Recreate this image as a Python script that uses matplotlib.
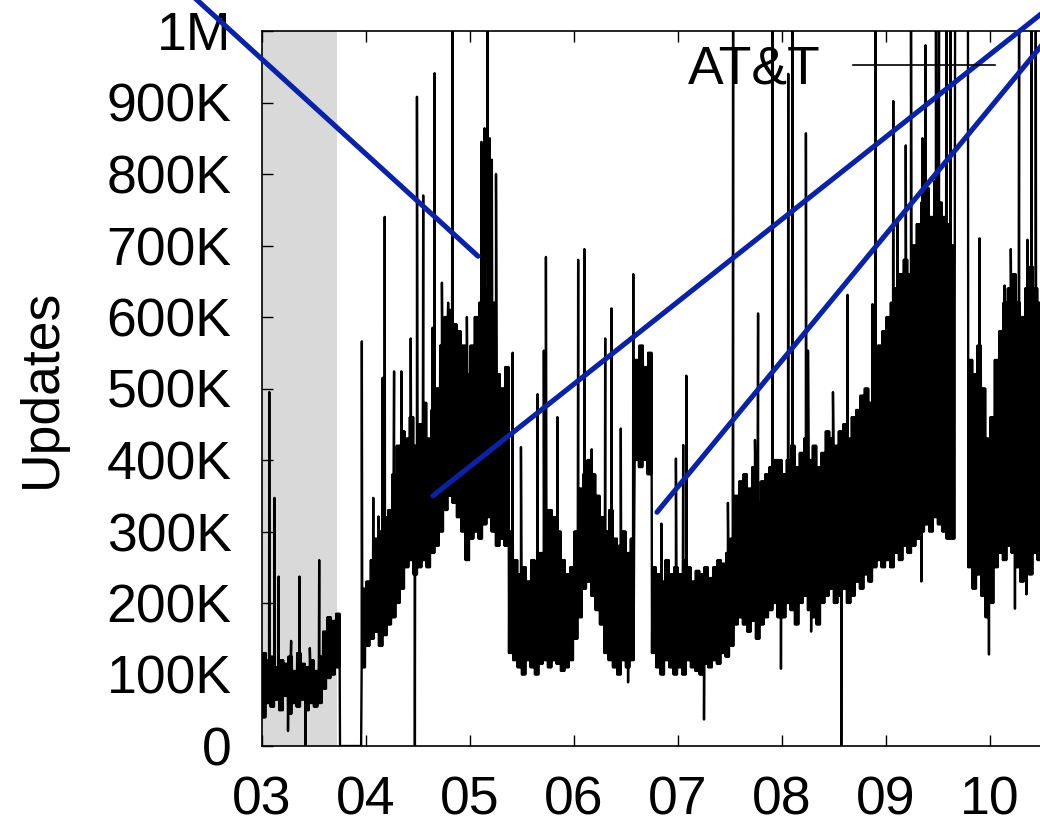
import numpy as np
import matplotlib
matplotlib.use("Agg")
import matplotlib.pyplot as plt

plt.rcParams['font.family'] = ['Liberation Sans', 'DejaVu Sans']

# ---------------- data (values in thousands of updates) ----------------
# half-month periods starting 2003.0; band low / high of the daily series
band_lo = [40, 60, 55, 65, 50, 70, 45, 60, 55, 65, 50, 60,
           55, 60, 80, 95, 100, 110, 0, 0, 0, 0, 0, 110,
           140, 150, 160, 140, 155, 170, 180, 200, 220, 250, 260, 240,
           250, 260, 250, 270, 280, 300, 330, 350, 340, 320, 300, 260,
           290, 300, 290, 310, 320, 300, 280, 290, 280, 130, 120, 110,
           100, 120, 110, 100, 115, 120, 110, 120, 115, 105, 110, 120,
           150, 180, 220, 230, 210, 190, 170, 130, 120, 110, 100, 120,
           110, 120, 400, 390, 400, 380, 130, 110, 100, 120, 110, 100,
           110, 100, 120, 110, 105, 100, 115, 110, 120, 115, 130, 125,
           140, 170, 180, 170, 160, 175, 150, 170, 180, 190, 200, 180,
           180, 200, 190, 170, 200, 210, 190, 180, 170, 200, 210, 220,
           200, 210, 220, 200, 210, 230, 220, 240, 230, 250, 260, 250,
           260, 250, 270, 260, 280, 270, 280, 290, 300, 310, 300, 320,
           310, 300, 290, 290, 1300, 1300, 1300, 250, 220, 240, 210, 180,
           200, 250, 270, 260, 280, 270, 250, 230, 260, 240, 270, 260,
           280, 270]
band_hi = [130, 120, 125, 110, 120, 115, 125, 105, 130, 115, 110, 120,
           105, 125, 160, 180, 175, 185, 0, 0, 0, 0, 0, 220,
           230, 260, 290, 300, 320, 330, 380, 420, 440, 430, 460, 420,
           450, 480, 430, 470, 500, 560, 600, 610, 590, 580, 560, 520,
           560, 600, 620, 640, 700, 620, 520, 500, 530, 300, 260, 240,
           250, 230, 260, 240, 270, 300, 330, 320, 300, 260, 240, 250,
           300, 360, 380, 400, 380, 350, 320, 300, 330, 290, 280, 300,
           270, 290, 540, 560, 530, 550, 250, 240, 230, 260, 240, 250,
           240, 260, 250, 230, 245, 240, 250, 235, 250, 260, 255, 270,
           290, 350, 370, 380, 360, 390, 340, 370, 380, 390, 400, 400,
           380, 400, 420, 390, 410, 430, 400, 420, 390, 410, 440, 430,
           420, 440, 450, 430, 460, 470, 490, 500, 480, 520, 560, 580,
           600, 620, 640, 660, 680, 660, 700, 730, 760, 780, 740, 790,
           760, 740, 730, 700, 1300, 1300, 1300, 540, 520, 560, 500, 430,
           460, 540, 580, 620, 640, 660, 620, 600, 640, 670, 640, 620,
           660, 640]

# isolated daily spikes / dips: (decimal year, value in K)
spike_dates = [2003.07, 2003.12, 2003.16, 2003.25, 2003.28, 2003.36, 2003.42,
               2003.46, 2003.55, 2003.96, 2004.07, 2004.12, 2004.16, 2004.18,
               2004.27, 2004.34, 2004.43, 2004.47, 2004.49, 2004.55, 2004.64,
               2004.66, 2004.73, 2004.79, 2004.83, 2004.97, 2005.06, 2005.11,
               2005.14, 2005.17, 2005.19, 2005.21, 2005.25, 2005.41, 2005.49,
               2005.65, 2005.71, 2005.73, 2005.84, 2006.04, 2006.10, 2006.17,
               2006.30, 2006.36, 2006.45, 2006.52, 2006.57, 2006.84, 2006.98,
               2007.05, 2007.08, 2007.25, 2007.48, 2007.53, 2007.74, 2007.77,
               2007.91, 2007.99, 2008.06, 2008.10, 2008.23, 2008.25, 2008.28,
               2008.49, 2008.57, 2008.63, 2008.87, 2008.90, 2009.07, 2009.11,
               2009.19, 2009.24, 2009.34, 2009.35, 2009.38, 2009.42, 2009.48,
               2009.51, 2009.58, 2009.62, 2009.82, 2009.90, 2009.99, 2010.14,
               2010.20, 2010.24, 2010.28, 2010.35, 2010.36, 2010.40, 2010.44]
spike_vals = [495, 347, 237, 21, 147, 237, 0,
              137, 260, 566, 347, 321, 515, 740,
              524, 524, 570, 0, 908, 770, 585,
              941, 648, 620, 1100, 600, 587, 845,
              864, 1100, 850, 820, 800, 550, 418,
              492, 553, 684, 460, 680, 695, 415,
              570, 612, 444, 89, 660, 311, 402,
              421, 518, 37, 340, 1100, 428, 605,
              1100, 108, 940, 1050, 857, 553, 160,
              495, 0, 631, 618, 1100, 902, 734,
              840, 1100, 230, 850, 980, 740, 1100,
              1100, 1100, 1100, 540, 710, 128, 644,
              695, 192, 1100, 212, 708, 1100, 1100]

x_ticks = [2003, 2004, 2005, 2006, 2007, 2008, 2009, 2010]
x_labels = ['03', '04', '05', '06', '07', '08', '09', '10']
y_ticks = [0, 100, 200, 300, 400, 500, 600, 700, 800, 900, 1000]
y_labels = ['0', '100K', '200K', '300K', '400K', '500K', '600K',
            '700K', '800K', '900K', '1M']

shade_start, shade_end = 2003.0, 2003.72
series_label = 'AT&T'

# ---------------- build the plotted series ----------------
# each half-month band is drawn as a dense low/high oscillation
step = 1.0 / 24.0
pts = []
for k, (lo, hi) in enumerate(zip(band_lo, band_hi)):
    t0 = 2003.0 + k * step
    for j in range(4):
        pts.append((t0 + (2 * j) * step / 8, lo))
        pts.append((t0 + (2 * j + 1) * step / 8, hi))
for d, v in zip(spike_dates, spike_vals):
    pts.append((d, v))
pts.sort(key=lambda p: p[0])
xs = np.array([p[0] for p in pts])
ys = np.array([p[1] for p in pts])

# ---------------- figure ----------------
W, H = 1040, 824
fig = plt.figure(figsize=(W / 100, H / 100), dpi=100)
ax_left, ax_right, ax_top, ax_bottom = 262, 1094, 31, 746
ax = fig.add_axes([ax_left / W, 1 - ax_bottom / H,
                   (ax_right - ax_left) / W, (ax_bottom - ax_top) / H])

ax.axvspan(shade_start, shade_end, color='#d9d9d9', lw=0, zorder=0)
line, = ax.plot(xs, ys, color='black', lw=1.7, zorder=2, label=series_label)

ax.set_xlim(2003, 2011)
ax.set_ylim(0, 1000)
ax.set_xticks(x_ticks)
ax.set_xticklabels(x_labels)
ax.set_yticks(y_ticks)
ax.set_yticklabels(y_labels)
ax.tick_params(axis='both', direction='in', length=8, width=1.0,
               labelsize=38.5, top=True, right=True, pad=22)
ax.tick_params(axis='x', pad=21)
for s in ax.spines.values():
    s.set_linewidth(1.2)

fig.text(42 / W, 1 - 388 / H, 'Updates', rotation=90, ha='center',
         va='center', fontsize=38.5)

ax.legend(handles=[line], labels=[series_label], loc='center right',
          bbox_to_anchor=(995 / W, 1 - 70 / H), bbox_transform=fig.transFigure,
          frameon=False, markerfirst=False, fontsize=38.5, borderpad=0,
          borderaxespad=0, handlelength=2.65, handletextpad=0.62)
leg_line = ax.get_legend().get_lines()[0]
leg_line.set_linewidth(1.2)

# ---------------- annotation pointers ----------------
blue = '#0a22a8'
targets = [(2005.077, 685), (2004.644, 350), (2006.798, 327)]
origins = [(0.1827, 1.0078), (1.0192, 1.0012), (1.0375, 1.0)]
for (tx, ty), (ox, oy) in zip(targets, origins):
    ax.annotate('', xy=(tx, ty), xycoords='data',
                xytext=(ox, oy), textcoords='figure fraction',
                arrowprops=dict(arrowstyle='-', color=blue, lw=3.7,
                                shrinkA=0, shrinkB=0),
                annotation_clip=False, zorder=5)

fig.savefig('out.png', dpi=100)
